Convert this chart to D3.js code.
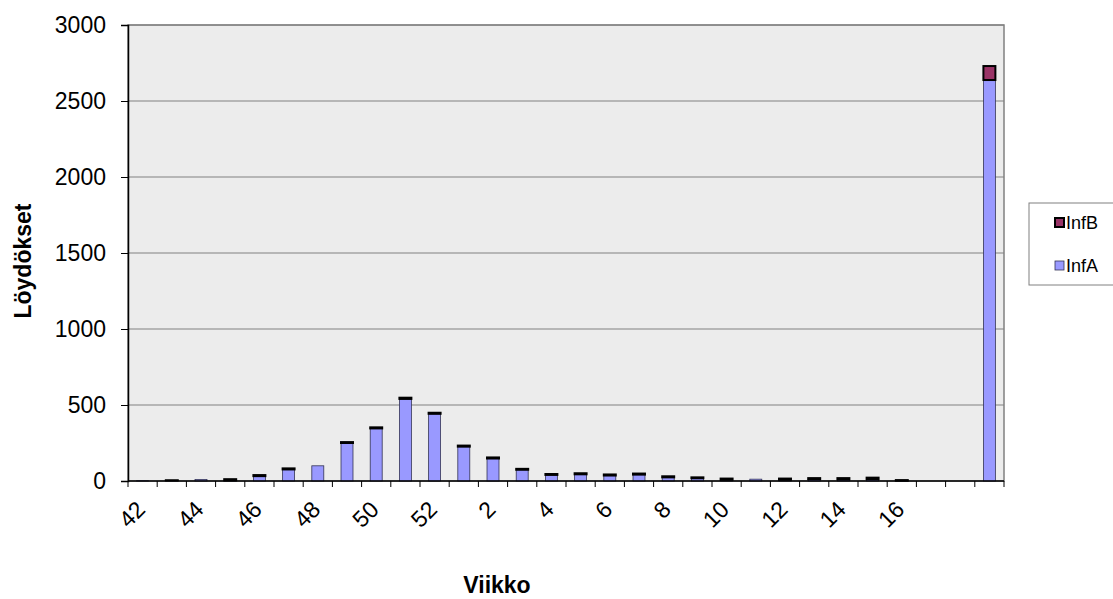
<!DOCTYPE html>
<html><head><meta charset="utf-8">
<script src="https://cdn.jsdelivr.net/npm/d3@7"></script>
<style>body{margin:0;background:#fff}svg{display:block;font-family:Arial,"Liberation Sans",sans-serif}</style>
</head><body>
<svg id="c" width="1113" height="599"></svg>
<script>
const weeks = ["42","43","44","45","46","47","48","49","50","51","52","1","2","3","4","5","6","7","8","9","10","11","12","13","14","15","16","17","",""];
const infA = [2,4,10,4,32,76,100,250,346,540,442,226,148,74,40,44,36,42,24,18,8,12,8,12,10,12,2,0,0,2638];
const infB = [0,1,0,8,7,7,0,6,7,8,7,7,7,6,6,7,7,7,7,6,8,0,8,7,9,10,4,0,0,92];
const yTicks = [0,500,1000,1500,2000,2500,3000];
const seriesNames = ["InfA","InfB"];
const colors = {InfA:"#9999FF", InfB:"#993366"};

const svg = d3.select("#c");
const L=128,R=1004,T=25,B=481;
const idx = weeks.map((d,i)=>i);
const x = d3.scaleBand().domain(idx).range([L,R]).padding(0);
const y = d3.scaleLinear().domain([0,3000]).range([B,T]);
const bw = x.bandwidth();

svg.append("rect").attr("x",L).attr("y",T).attr("width",R-L).attr("height",B-T)
  .attr("fill","#ECECEC").attr("stroke","#808080").attr("stroke-width",1.5);

svg.append("g").selectAll("line").data(yTicks.filter(v=>v>0)).join("line")
  .attr("x1",L).attr("x2",R).attr("y1",d=>y(d)).attr("y2",d=>y(d))
  .attr("stroke","#808080").attr("stroke-width",1);

const data = idx.map(i=>({i, InfA:infA[i], InfB:infB[i]}));
const stack = d3.stack().keys(seriesNames)(data);
const bx = i => x(i)+bw*0.295, bwid = bw*0.41;

stack.forEach(s=>{
  const g = svg.append("g");
  s.forEach((d,k)=>{
    const v = d[1]-d[0];
    if (v<=0) return;
    const isB = s.key==="InfB";
    g.append("rect").attr("x",bx(k)).attr("width",bwid)
      .attr("y",y(d[1])).attr("height",Math.max(0,y(d[0])-y(d[1])))
      .attr("fill",colors[s.key])
      .attr("stroke", isB?"#000":"#333355")
      .attr("stroke-width", isB?2:0.8);
  });
});

// axes
const ya = svg.append("g").attr("transform",`translate(${L},0)`)
  .call(d3.axisLeft(y).tickValues(yTicks).tickSize(7).tickPadding(15).tickFormat(d3.format("d")));
ya.select(".domain").attr("stroke","#000").attr("stroke-width",1.5);
ya.selectAll(".tick line").attr("stroke","#000");
ya.selectAll("text").attr("font-size",23).attr("fill","#000").style("font-family","Arial,'Liberation Sans',sans-serif");

const xa = svg.append("g").attr("transform",`translate(0,${B})`);
xa.append("line").attr("x1",L).attr("x2",R).attr("stroke","#000").attr("stroke-width",1.5);
xa.selectAll("line.tk").data(idx.concat([idx.length])).join("line").attr("class","tk")
  .attr("x1",i=>L+i*bw).attr("x2",i=>L+i*bw).attr("y1",0).attr("y2",6).attr("stroke","#000");
xa.selectAll("text").data(idx.filter(i=>i%2===0 && weeks[i]!=="")).join("text")
  .attr("transform",i=>`translate(${x(i)+bw/2+4},${30}) rotate(-45)`)
  .attr("text-anchor","end").attr("font-size",23).attr("fill","#000")
  .text(i=>weeks[i]);

svg.append("text").attr("x",497).attr("y",593).attr("text-anchor","middle")
  .attr("font-size",23).attr("font-weight","bold").text("Viikko");
svg.append("text").attr("transform","translate(31,261) rotate(-90)").attr("text-anchor","middle")
  .attr("font-size",23).attr("font-weight","bold").text("Löydökset");

// legend
const lg = svg.append("g");
lg.append("rect").attr("x",1029).attr("y",203).attr("width",90).attr("height",82)
  .attr("fill","#fff").attr("stroke","#808080").attr("stroke-width",1);
const legItems = ["InfB","InfA"];
legItems.forEach((k,j)=>{
  const yy = 218 + j*43;
  lg.append("rect").attr("x",1055).attr("y",yy).attr("width",9).attr("height",9)
    .attr("fill",colors[k]).attr("stroke",k==="InfB"?"#000":"#333355").attr("stroke-width",k==="InfB"?2:0.8);
  lg.append("text").attr("x",1066).attr("y",yy+11).attr("font-size",18).text(k);
});
</script>
</body></html>
